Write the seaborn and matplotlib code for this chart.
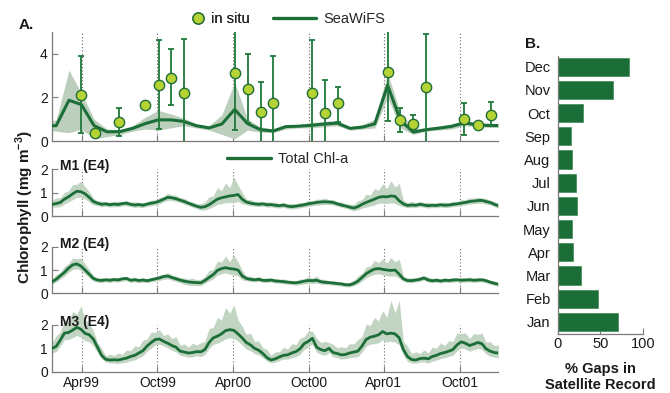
import numpy as np
import pandas as pd
import matplotlib
matplotlib.use("Agg")
import matplotlib.pyplot as plt
from matplotlib.lines import Line2D
import seaborn as sns

sns.set_style("ticks")
plt.rcParams["font.family"] = ["Liberation Sans", "DejaVu Sans"]
plt.rcParams["mathtext.fontset"] = "custom"
plt.rcParams["mathtext.rm"] = "Liberation Sans:bold"
plt.rcParams["mathtext.bf"] = "Liberation Sans:bold"

GREEN = "#1b6e37"
BAND = "#bccfbc"
BAND2 = "#c2d5c2"
MARK = "#b6d335"
SPINE = "#7a7a7a"
TXT = "#1a1a1a"

# ---------------- Panel A data ----------------
sw_dates = ['1998-12-30', '1999-01-29', '1999-03-01', '1999-03-31', '1999-05-01', '1999-06-01',
            '1999-07-02', '1999-08-02', '1999-09-02', '1999-10-03', '1999-11-02', '1999-12-03',
            '2000-01-03', '2000-02-03', '2000-03-05', '2000-04-05', '2000-05-06', '2000-06-06',
            '2000-07-07', '2000-08-07', '2000-09-07', '2000-10-08', '2000-11-08', '2000-12-09',
            '2001-01-09', '2001-02-09', '2001-03-10', '2001-04-10', '2001-05-11', '2001-06-11',
            '2001-07-12', '2001-08-12', '2001-09-12', '2001-10-13', '2001-11-13', '2001-12-14',
            '2002-01-14']
sw_chl = [0.70, 0.70, 1.87, 1.67, 0.70, 0.42, 0.43, 0.58, 0.80, 0.97, 0.97, 0.90, 0.70, 0.60,
          0.78, 1.45, 0.80, 0.52, 0.46, 0.66, 0.68, 0.72, 0.78, 0.82, 0.58, 0.64, 0.79, 2.56,
          0.94, 0.41, 0.52, 0.59, 0.67, 0.83, 0.74, 0.71, 0.71]
sw_lo = [0.50, 0.45, 0.38, 0.55, 0.10, 0.20, 0.30, 0.45, 0.55, 0.50, 0.60, 0.70, 0.60, 0.50,
         0.30, 0.10, 0.50, 0.40, 0.38, 0.55, 0.60, 0.60, 0.65, 0.70, 0.50, 0.55, 0.60, 2.00,
         0.60, 0.30, 0.45, 0.50, 0.55, 0.70, 0.65, 0.62, 0.62]
sw_hi = [0.95, 0.95, 3.25, 2.20, 1.00, 0.55, 0.50, 0.70, 1.10, 1.40, 1.25, 1.05, 0.80, 0.70,
         1.20, 2.70, 1.00, 0.65, 0.55, 0.75, 0.75, 0.85, 0.90, 0.95, 0.65, 0.75, 1.00, 3.10,
         1.30, 0.55, 0.60, 0.68, 0.80, 0.95, 0.85, 0.80, 0.80]

insitu_dates = ['1999-03-31', '1999-05-02', '1999-07-01', '1999-09-01', '1999-10-04', '1999-11-03',
                '1999-12-04', '2000-04-06', '2000-05-06', '2000-06-07', '2000-07-07', '2000-10-09',
                '2000-11-09', '2000-12-10', '2001-04-10', '2001-05-10', '2001-06-11', '2001-07-12',
                '2001-10-12', '2001-11-14', '2001-12-15']
insitu_chl = [2.12, 0.35, 0.85, 1.65, 2.58, 2.90, 2.21, 3.12, 2.39, 1.35, 1.74, 2.20, 1.29, 1.73,
              3.17, 0.97, 0.77, 2.48, 1.02, 0.74, 1.21]
insitu_lo = [0.38, 0.35, 0.22, 1.65, 0.56, 1.64, -0.3, 0.50, 0.84, -0.3, -0.3, -0.3, -0.3, 0.89,
             0.91, 0.41, 0.56, -0.3, 0.29, 0.74, 0.67]
insitu_hi = [3.88, 0.35, 1.52, 1.65, 4.62, 4.24, 4.68, 5.60, 3.97, 2.70, 3.89, 4.65, 2.80, 2.50,
             5.60, 1.52, 1.21, 4.92, 1.74, 0.74, 1.80]

# ---------------- Model data (10-day samples from 1999-01-19) ----------------
model_start = "1999-01-19"
model_n = 109
m1 = [0.50, 0.53, 0.58, 0.72, 0.82, 0.95, 1.06, 1.04, 0.95, 0.80, 0.62,
      0.55, 0.50, 0.52, 0.48, 0.51, 0.49, 0.53, 0.55, 0.50, 0.47, 0.49, 0.46, 0.51, 0.55, 0.58, 0.64,
      0.72, 0.80, 0.78, 0.74, 0.68, 0.62, 0.55, 0.48, 0.42, 0.37,
      0.40, 0.48, 0.60, 0.72, 0.78, 0.82, 0.86, 0.88, 0.92, 0.72,
      0.60, 0.55, 0.52, 0.50, 0.52, 0.48, 0.49, 0.46, 0.44, 0.47, 0.42, 0.40, 0.42, 0.45, 0.48, 0.52,
      0.55, 0.58, 0.60, 0.61, 0.60, 0.58, 0.52, 0.47, 0.43, 0.38,
      0.34, 0.40, 0.50, 0.58, 0.65, 0.72, 0.80, 0.83, 0.82, 0.86, 0.84, 0.65,
      0.52, 0.45, 0.47, 0.46, 0.50, 0.47, 0.44, 0.46, 0.45, 0.48, 0.46, 0.47, 0.50, 0.52, 0.55, 0.58,
      0.62, 0.64, 0.66, 0.67, 0.62, 0.58, 0.50, 0.44]
m1_up = [0.15, 0.25, 0.20, 0.30, 0.25, 0.40, 0.30, 0.45, 0.30, 0.25, 0.15,
         0.10, 0.14, 0.09, 0.13, 0.10, 0.15, 0.09, 0.12, 0.10, 0.14, 0.09, 0.12, 0.10, 0.13, 0.11, 0.15,
         0.12, 0.18, 0.12, 0.15, 0.10, 0.14, 0.10, 0.13, 0.11, 0.15,
         0.20, 0.35, 0.25, 0.50, 0.30, 0.60, 0.35, 0.80, 0.40, 0.30,
         0.12, 0.16, 0.10, 0.14, 0.09, 0.13, 0.10, 0.14, 0.09, 0.12, 0.10, 0.14, 0.10, 0.13, 0.11, 0.15,
         0.10, 0.14, 0.12, 0.16, 0.10, 0.13, 0.10, 0.14, 0.10, 0.13,
         0.15, 0.25, 0.20, 0.35, 0.25, 0.45, 0.30, 0.55, 0.35, 0.65, 0.40, 0.75,
         0.15, 0.12, 0.16, 0.10, 0.14, 0.10, 0.15, 0.10, 0.13, 0.10, 0.14, 0.10, 0.13, 0.10, 0.15, 0.11,
         0.16, 0.12, 0.15, 0.10, 0.14, 0.10, 0.12, 0.10]
m1_dn = [0.12, 0.15, 0.18, 0.20, 0.22, 0.25, 0.25, 0.25, 0.22, 0.20, 0.15,
         0.10, 0.11, 0.10, 0.10, 0.11, 0.10, 0.10, 0.11, 0.10, 0.10, 0.11, 0.10, 0.10, 0.11, 0.10, 0.12,
         0.12, 0.13, 0.12, 0.12, 0.11, 0.11, 0.10, 0.10, 0.10, 0.12,
         0.14, 0.16, 0.20, 0.22, 0.25, 0.25, 0.28, 0.30, 0.30, 0.20,
         0.12, 0.11, 0.10, 0.10, 0.10, 0.10, 0.10, 0.10, 0.10, 0.10, 0.10, 0.10, 0.10, 0.10, 0.10, 0.11,
         0.11, 0.12, 0.12, 0.12, 0.11, 0.11, 0.10, 0.10, 0.10, 0.10,
         0.12, 0.14, 0.16, 0.20, 0.22, 0.25, 0.25, 0.28, 0.28, 0.30, 0.30, 0.20,
         0.12, 0.10, 0.10, 0.10, 0.10, 0.10, 0.10, 0.10, 0.10, 0.10, 0.10, 0.10, 0.10, 0.10, 0.10, 0.10,
         0.11, 0.11, 0.12, 0.12, 0.11, 0.10, 0.10, 0.10]
m2 = [0.49, 0.60, 0.75, 0.90, 1.08, 1.22, 1.26, 1.17, 1.00, 0.82, 0.64,
      0.57, 0.55, 0.58, 0.56, 0.59, 0.57, 0.62, 0.64, 0.56, 0.58, 0.55, 0.57, 0.54, 0.58, 0.62, 0.66,
      0.72, 0.74, 0.68, 0.62, 0.57, 0.52, 0.49, 0.47, 0.46, 0.45,
      0.55, 0.68, 0.80, 0.98, 1.06, 1.10, 1.06, 1.04, 1.00, 0.75,
      0.64, 0.60, 0.58, 0.60, 0.56, 0.55, 0.57, 0.53, 0.52, 0.50, 0.48, 0.46, 0.45, 0.48, 0.52, 0.55,
      0.54, 0.56, 0.50, 0.47, 0.46, 0.44, 0.42, 0.40, 0.37, 0.36,
      0.42, 0.52, 0.68, 0.84, 0.95, 1.04, 1.06, 1.03, 1.00, 0.98, 1.00, 0.82,
      0.62, 0.55, 0.54, 0.57, 0.60, 0.66, 0.57, 0.54, 0.56, 0.53, 0.56, 0.55, 0.57, 0.58, 0.56, 0.57,
      0.58, 0.56, 0.57, 0.58, 0.54, 0.48, 0.43, 0.39]
m2_up = [0.12, 0.20, 0.15, 0.25, 0.20, 0.30, 0.22, 0.35, 0.25, 0.20, 0.12,
         0.08, 0.12, 0.08, 0.11, 0.08, 0.12, 0.08, 0.10, 0.08, 0.12, 0.08, 0.10, 0.08, 0.11, 0.09, 0.13,
         0.10, 0.15, 0.10, 0.13, 0.10, 0.14, 0.12, 0.18, 0.12, 0.15,
         0.18, 0.30, 0.22, 0.40, 0.28, 0.50, 0.30, 0.60, 0.35, 0.25,
         0.10, 0.14, 0.09, 0.12, 0.08, 0.12, 0.08, 0.11, 0.08, 0.12, 0.08, 0.10, 0.09, 0.13, 0.10, 0.16,
         0.12, 0.18, 0.10, 0.14, 0.08, 0.11, 0.08, 0.10, 0.08, 0.12,
         0.14, 0.22, 0.18, 0.30, 0.22, 0.38, 0.25, 0.45, 0.30, 0.55, 0.35, 0.65,
         0.12, 0.10, 0.13, 0.09, 0.12, 0.09, 0.13, 0.09, 0.11, 0.08, 0.12, 0.08, 0.11, 0.08, 0.12, 0.09,
         0.12, 0.09, 0.11, 0.08, 0.10, 0.08, 0.10, 0.08]
m2_dn = [0.10, 0.12, 0.14, 0.16, 0.18, 0.20, 0.20, 0.20, 0.18, 0.15, 0.12,
         0.09, 0.09, 0.09, 0.10, 0.09, 0.09, 0.10, 0.09, 0.09, 0.09, 0.10, 0.09, 0.09, 0.09, 0.10, 0.11,
         0.12, 0.12, 0.12, 0.12, 0.12, 0.13, 0.14, 0.14, 0.13, 0.12,
         0.12, 0.15, 0.18, 0.20, 0.22, 0.22, 0.24, 0.25, 0.25, 0.18,
         0.10, 0.10, 0.09, 0.09, 0.09, 0.09, 0.09, 0.09, 0.09, 0.09, 0.09, 0.09, 0.10, 0.11, 0.12, 0.13,
         0.13, 0.12, 0.10, 0.09, 0.09, 0.09, 0.09, 0.09, 0.09, 0.09,
         0.10, 0.12, 0.15, 0.18, 0.20, 0.22, 0.22, 0.24, 0.24, 0.25, 0.25, 0.18,
         0.10, 0.09, 0.09, 0.09, 0.09, 0.09, 0.09, 0.09, 0.09, 0.09, 0.09, 0.09, 0.09, 0.09, 0.09, 0.09,
         0.09, 0.09, 0.09, 0.09, 0.09, 0.09, 0.09, 0.09]
m3 = [1.00, 1.08, 1.35, 1.65, 1.68, 1.78, 1.90, 1.82, 1.64, 1.58, 1.40,
      1.05, 0.70, 0.53, 0.50, 0.51, 0.50, 0.54, 0.58, 0.65, 0.70, 0.80, 0.90, 1.10, 1.25, 1.38, 1.40,
      1.30, 1.22, 1.12, 1.05, 0.88, 0.84, 0.80, 0.82, 0.86, 0.85,
      0.95, 1.25, 1.45, 1.52, 1.62, 1.76, 1.80, 1.77, 1.62, 1.45,
      1.25, 1.15, 1.00, 0.92, 0.78, 0.60, 0.50, 0.55, 0.63, 0.70, 0.72, 0.80, 0.86, 0.98, 1.20, 1.30,
      1.43, 1.05, 0.95, 0.90, 1.00, 0.82, 0.78, 0.72, 0.74, 0.80,
      0.84, 0.88, 1.10, 1.38, 1.48, 1.52, 1.58, 1.72, 1.62, 1.65, 1.62, 1.45,
      0.95, 0.65, 0.52, 0.50, 0.56, 0.58, 0.55, 0.65, 0.70, 0.78, 0.82, 0.88, 0.95, 1.15, 1.28, 1.22,
      1.12, 1.18, 1.25, 1.20, 0.98, 0.88, 0.82, 0.80]
m3_up = [0.25, 0.45, 0.35, 0.60, 0.45, 0.80, 0.55, 1.00, 0.60, 0.50, 0.35,
         0.20, 0.30, 0.15, 0.25, 0.18, 0.30, 0.20, 0.35, 0.25, 0.40, 0.28, 0.45, 0.30, 0.45, 0.30, 0.40,
         0.25, 0.40, 0.30, 0.45, 0.25, 0.35, 0.25, 0.40, 0.28, 0.40,
         0.35, 0.60, 0.45, 0.80, 0.60, 1.00, 0.70, 1.10, 0.60, 0.50,
         0.35, 0.50, 0.30, 0.40, 0.25, 0.35, 0.20, 0.30, 0.22, 0.35, 0.25, 0.40, 0.30, 0.45, 0.30, 0.45,
         0.30, 0.40, 0.30, 0.40, 0.25, 0.35, 0.25, 0.35, 0.28, 0.40,
         0.35, 0.50, 0.40, 0.65, 0.50, 0.80, 0.60, 0.90, 0.70, 1.40, 0.90, 1.60,
         0.35, 0.45, 0.25, 0.35, 0.22, 0.35, 0.25, 0.40, 0.30, 0.45, 0.30, 0.45, 0.35, 0.50, 0.35, 0.45,
         0.30, 0.45, 0.35, 0.45, 0.30, 0.40, 0.30, 0.35]
m3_dn = [0.20, 0.22, 0.25, 0.28, 0.30, 0.32, 0.35, 0.35, 0.32, 0.30, 0.28,
         0.22, 0.15, 0.12, 0.12, 0.14, 0.15, 0.16, 0.18, 0.18, 0.20, 0.20, 0.22, 0.22, 0.24, 0.22, 0.22,
         0.20, 0.20, 0.20, 0.20, 0.18, 0.18, 0.18, 0.18, 0.18, 0.20,
         0.22, 0.25, 0.28, 0.30, 0.32, 0.35, 0.35, 0.35, 0.32, 0.30,
         0.28, 0.25, 0.22, 0.20, 0.18, 0.15, 0.12, 0.14, 0.15, 0.16, 0.18, 0.20, 0.22, 0.24, 0.25, 0.25,
         0.25, 0.22, 0.20, 0.20, 0.18, 0.18, 0.18, 0.18, 0.18, 0.20,
         0.22, 0.24, 0.26, 0.28, 0.30, 0.32, 0.34, 0.35, 0.35, 0.35, 0.35, 0.30,
         0.25, 0.20, 0.15, 0.14, 0.15, 0.16, 0.18, 0.20, 0.20, 0.22, 0.22, 0.22, 0.24, 0.25, 0.25, 0.25,
         0.24, 0.24, 0.25, 0.24, 0.22, 0.22, 0.20, 0.20]
mooring_labels = ["M1 (E4)", "M2 (E4)", "M3 (E4)"]

# ---------------- Panel B data ----------------
months = ["Dec", "Nov", "Oct", "Sep", "Aug", "Jul", "Jun", "May", "Apr", "Mar", "Feb", "Jan"]
gaps = [84, 65, 30, 15.5, 17, 22, 22.5, 17, 18, 27, 47, 71]

tick_dates = ["1999-04-01", "1999-10-01", "2000-04-01", "2000-10-01", "2001-04-01", "2001-10-01"]
tick_labels = ["Apr99", "Oct99", "Apr00", "Oct00", "Apr01", "Oct01"]
xlim_dates = ["1999-01-19", "2002-01-02"]

# ---------------- figure ----------------
W, H = 670, 393
fig = plt.figure(figsize=(W / 100, H / 100), dpi=100)


def fax(l, t, r, b):
    return fig.add_axes([l / W, 1 - b / H, (r - l) / W, (b - t) / H])


axA = fax(52, 32, 498, 141)
axM = [fax(52, 169.3, 498, 216), fax(52, 246.7, 498, 293.3), fax(52, 325, 498, 371.7)]
axB = fax(557.5, 56, 643, 334)

tick_ts = pd.to_datetime(tick_dates)
xl = pd.to_datetime(xlim_dates)


def style_time(ax, labels):
    for s in ["top", "right"]:
        ax.spines[s].set_visible(False)
    for s in ["left", "bottom"]:
        ax.spines[s].set_color(SPINE)
        ax.spines[s].set_linewidth(0.9)
    for t in tick_ts:
        ax.axvline(t, color="#6a6a6a", ls=(0, (1, 2)), lw=0.8, zorder=0)
    ax.set_xlim(xl[0], xl[1])
    ax.set_xticks(tick_ts)
    ax.set_xticklabels(tick_labels if labels else [])
    ax.tick_params(direction="in", length=4, color=SPINE, labelsize=10, labelcolor=TXT, pad=3)
    ax.set_xlabel("")
    ax.set_ylabel("")


# Panel A
swd = pd.to_datetime(sw_dates)
axA.fill_between(swd, sw_lo, sw_hi, color=BAND, lw=0, zorder=1)
sns.lineplot(x=swd, y=sw_chl, ax=axA, color=GREEN, lw=2.2, zorder=3)
isd = pd.to_datetime(insitu_dates)
ich = np.array(insitu_chl)
yerr = np.vstack([ich - np.array(insitu_lo), np.array(insitu_hi) - ich])
axA.errorbar(isd, ich, yerr=yerr, fmt="none", ecolor="#1f7a3c", elinewidth=1.3,
             capsize=2.5, capthick=1.3, zorder=4)
sns.scatterplot(x=isd, y=ich, ax=axA, color=MARK, edgecolor="#1f6e35", linewidth=1.0,
                s=55, zorder=5)
style_time(axA, False)
axA.set_ylim(0, 5)
axA.set_yticks([0, 2, 4])

# Mooring panels
mdates_ = pd.date_range(model_start, periods=model_n, freq="10D")
for ax, vals, up, dn, lab in zip(axM, [m1, m2, m3], [m1_up, m2_up, m3_up],
                                 [m1_dn, m2_dn, m3_dn], mooring_labels):
    v = np.array(vals)
    ax.fill_between(mdates_, v - np.array(dn), v + np.array(up), color=BAND2, lw=0,
                    zorder=1, clip_on=False)
    sns.lineplot(x=mdates_, y=v, ax=ax, color=GREEN, lw=2.0, zorder=3)
    style_time(ax, ax is axM[-1])
    ax.set_ylim(0, 2)
    ax.set_yticks([0, 1, 2])
    ax.text(0.017, 1.06, lab, transform=ax.transAxes, fontsize=10, fontweight="bold",
            ha="left", va="center", color=TXT, zorder=6)

# Legends
leg1 = fig.legend(handles=[Line2D([], [], marker="o", ls="none", markerfacecolor=MARK,
                                  markeredgecolor="#1f6e35", markersize=8)],
                  labels=["in situ"], loc="center", bbox_to_anchor=(220 / W, 1 - 19 / H),
                  frameon=False, fontsize=10.5, handlelength=1, handletextpad=0.4)
fig.add_artist(leg1)
fig.legend(handles=[Line2D([], [], color=GREEN, lw=2.4)], labels=["SeaWiFS"],
           loc="center", bbox_to_anchor=(329 / W, 1 - 19 / H), frameon=False,
           fontsize=10.5, handlelength=3.0, handletextpad=0.5)
fig.legend(handles=[Line2D([], [], color=GREEN, lw=2.4)], labels=["Total Chl-a"],
           loc="center", bbox_to_anchor=(288 / W, 1 - 159 / H), frameon=False,
           fontsize=10.5, handlelength=3.0, handletextpad=0.5)

# Panel B
sns.barplot(x=gaps, y=months, order=months, orient="h", color=GREEN, saturation=1,
            width=0.78, ax=axB, edgecolor="#3d8a55", linewidth=0.5)
axB.set_xlim(0, 100)
axB.set_ylim(11.52, -0.46)
axB.set_xticks([0, 50, 100])
for s in ["top", "right"]:
    axB.spines[s].set_visible(False)
for s in ["left", "bottom"]:
    axB.spines[s].set_color(SPINE)
    axB.spines[s].set_linewidth(0.9)
axB.tick_params(axis="x", direction="in", length=4, color=SPINE, labelsize=10.5,
                labelcolor=TXT, pad=2)
axB.tick_params(axis="y", length=0, labelsize=10.5, labelcolor=TXT, pad=5)
axB.set_ylabel("")
axB.set_xlabel("% Gaps in\nSatellite Record", fontsize=10.5, fontweight="bold", color=TXT,
               labelpad=8, linespacing=1.15)

# Texts
fig.text(26 / W, 1 - 25 / H, "A.", fontsize=11, fontweight="bold", ha="center", va="center",
         color=TXT)
fig.text(533 / W, 1 - 44 / H, "B.", fontsize=11, fontweight="bold", ha="center", va="center",
         color=TXT)
fig.text(25 / W, 1 - 207 / H, r"Chlorophyll (mg m$^{-3}$)", fontsize=11, fontweight="bold",
         rotation=90, ha="center", va="center", color=TXT)

fig.savefig("out.png", dpi=100)
